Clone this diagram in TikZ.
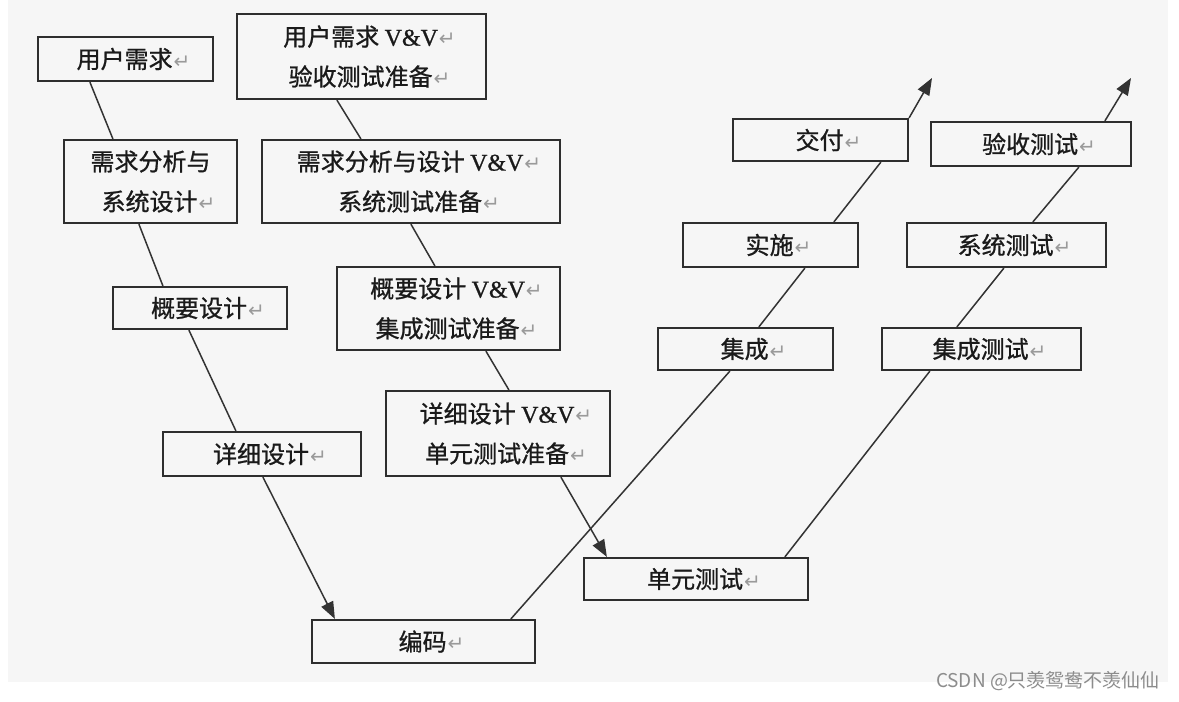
\documentclass[tikz,border=0pt]{standalone}
\usepackage{fontspec}
\usetikzlibrary{arrows.meta}
\newfontfamily\cjk{Noto Sans CJK SC}[FakeBold=0.9]
\newfontfamily\wmf{Noto Sans CJK SC}
\newfontfamily\latf{Liberation Serif}[FakeBold=0.9]
\newfontfamily\retf{DejaVu Sans}
\definecolor{bg}{HTML}{F6F6F6}
\definecolor{boxc}{HTML}{2E2E2E}
\definecolor{linec}{HTML}{333333}
\definecolor{retc}{HTML}{9A9A9A}
\definecolor{txtc}{HTML}{1A1A1A}
\definecolor{wmc}{HTML}{8C8C8C}
\newcommand\retmark{{\kern1pt\retf\fontsize{20}{20}\selectfont\textcolor{retc}{↵}}}
\newcommand\rl[1]{\kern16pt#1\retmark}
\newcommand\vvtext{{\latf V\&V}}
\begin{document}
\begin{tikzpicture}[x=1pt,y=-1pt,
  box/.style={draw=boxc, line width=2.2pt, inner sep=0pt, align=center, text=txtc, font=\cjk\fontsize{24}{40}\selectfont},
  conn/.style={draw=linec, line width=1.5pt},
  arr/.style={conn, -{Triangle[length=17pt,width=13pt]}}]
\useasboundingbox (0,0) rectangle (1179,702);
\fill[white] (0,0) rectangle (1179,702);
\fill[bg] (8,0) rectangle (1168,682);

% left column
\node[box, minimum width=175pt, minimum height=44pt] (u1) at (125.5,59) {\rl{用户需求}};
\node[box, minimum width=173pt, minimum height=83pt] (u2) at (150.5,181.5) {需求分析与\\\rl{系统设计}};
\node[box, minimum width=174pt, minimum height=42pt] (u3) at (200,308) {\rl{概要设计}};
\node[box, minimum width=198pt, minimum height=44pt] (u4) at (262,454) {\rl{详细设计}};
% V&V column
\node[box, minimum width=249pt, minimum height=85pt] (v1) at (361.5,56.5) {\rl{用户需求 \vvtext}\\\rl{验收测试准备}};
\node[box, minimum width=298pt, minimum height=83pt] (v2) at (411,181.5) {\rl{需求分析与设计 \vvtext}\\\rl{系统测试准备}};
\node[box, minimum width=223pt, minimum height=83pt] (v3) at (448.5,308.5) {\rl{概要设计 \vvtext}\\\rl{集成测试准备}};
\node[box, minimum width=224pt, minimum height=85pt] (v4) at (498,433.5) {\rl{详细设计 \vvtext}\\\rl{单元测试准备}};
% bottom
\node[box, minimum width=223pt, minimum height=43pt] (code) at (423.5,641.5) {\rl{编码}};
\node[box, minimum width=224pt, minimum height=42pt] (ut) at (696,579) {\rl{单元测试}};
% right columns
\node[box, minimum width=175pt, minimum height=42pt] (jc) at (745.5,349) {\rl{集成}};
\node[box, minimum width=175pt, minimum height=44pt] (ss) at (770.5,245) {\rl{实施}};
\node[box, minimum width=175pt, minimum height=42pt] (jf) at (820.5,140) {\rl{交付}};
\node[box, minimum width=199pt, minimum height=42pt] (it) at (981.5,349) {\rl{集成测试}};
\node[box, minimum width=199pt, minimum height=44pt] (st) at (1006.5,245) {\rl{系统测试}};
\node[box, minimum width=200pt, minimum height=44pt] (at) at (1031,144) {\rl{验收测试}};

\coordinate (tip1) at (932,78);
\coordinate (tip2) at (1131,78);

% left chain
\draw[conn] ([xshift=53pt]u1.south west) -- ([xshift=50pt]u2.north west);
\draw[conn] ([xshift=76pt]u2.south west) -- ([xshift=51pt]u3.north west);
\draw[conn] ([xshift=77pt]u3.south west) -- ([xshift=74pt]u4.north west);
\draw[arr] ([xshift=101pt]u4.south west) -- ([xshift=24pt]code.north west);
% middle chain
\draw[conn] ([xshift=101pt]v1.south west) -- ([xshift=100pt]v2.north west);
\draw[conn] ([xshift=150pt]v2.south west) -- ([xshift=99pt]v3.north west);
\draw[conn] ([xshift=150pt]v3.south west) -- ([xshift=124pt]v4.north west);
\draw[arr] ([xshift=176pt]v4.south west) -- ([xshift=24pt]ut.north west);
% right chain 1
\draw[conn] ([xshift=200pt]code.north west) -- ([xshift=73pt]jc.south west);
\draw[conn] ([xshift=102pt]jc.north west) -- ([xshift=123pt]ss.south west);
\draw[conn] ([xshift=152pt]ss.north west) -- ([xshift=149pt]jf.south west);
\draw[arr] (jf.north east) -- (tip1);
% right chain 2
\draw[conn] ([xshift=202pt]ut.north west) -- ([xshift=49pt]it.south west);
\draw[conn] ([xshift=76pt]it.north west) -- ([xshift=98pt]st.south west);
\draw[conn] ([xshift=127pt]st.north west) -- ([xshift=149pt]at.south west);
\draw[arr] ([xshift=175pt]at.north west) -- (tip2);

\node[font=\wmf\fontsize{19}{19}\selectfont, text=wmc, inner sep=0pt] (wm) at (1048,681) {CSDN @只羡鸳鸯不羡仙仙};
\end{tikzpicture}
\end{document}
